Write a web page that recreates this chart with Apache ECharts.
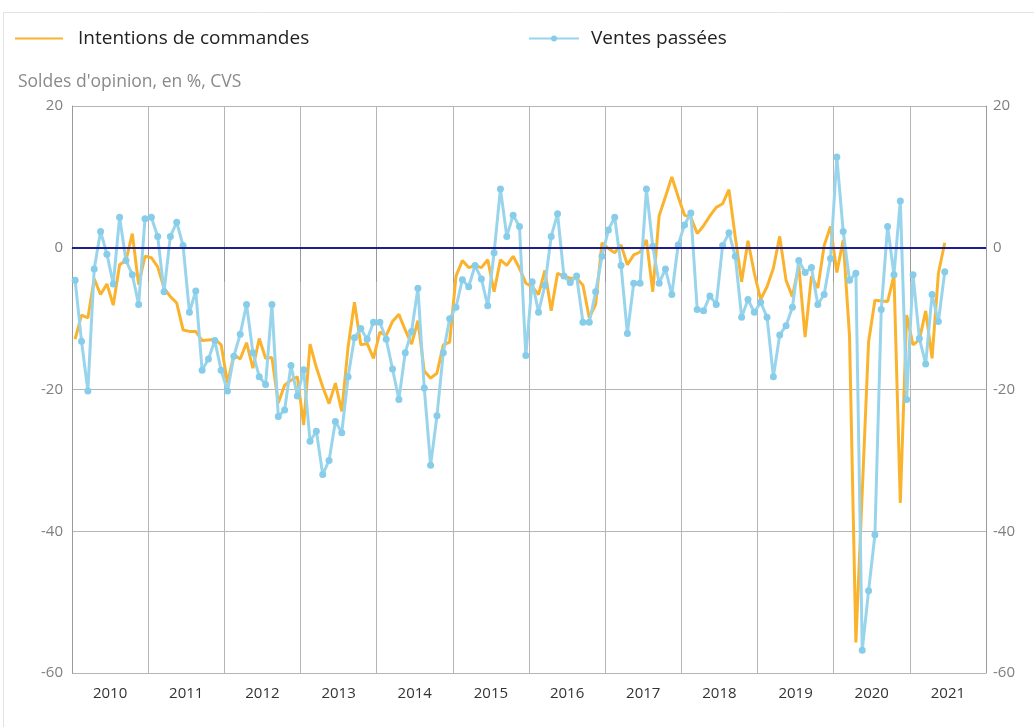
<!DOCTYPE html>
<html>
<head>
<meta charset="utf-8">
<title>Intentions de commandes / Ventes passées</title>
<script src="https://cdn.jsdelivr.net/npm/echarts@6/dist/echarts.min.js"></script>
<style>
  html, body { margin: 0; padding: 0; background: #fff; }
  #chart { width: 1034px; height: 727px; }
</style>
</head>
<body>
<div id="chart"></div>
<script>
const years = ['2010', '2011', '2012', '2013', '2014', '2015', '2016', '2017', '2018', '2019', '2020', '2021']

// mois de janv. 2010 à déc. 2021 (les données s'arrêtent en juin 2021)
const months = []
years.forEach(y => {
  for (let m = 1; m <= 12; m++) months.push(y + '-' + String(m).padStart(2, '0'))
})

const yTicks = [20, 0, -20, -40, -60]

// Intentions de commandes
const commandes = [
  -12.9, -9.5, -9.9, -4.4, -6.6, -5.1, -8.1, -2.4, -1.8, 2.0, -5.2, -1.2,
  -1.4, -2.7, -5.7, -6.9, -7.8, -11.6, -11.8, -11.8, -13.1, -13.0, -12.9, -13.7,
  -19.1, -15.1, -15.7, -13.4, -17.0, -12.8, -15.6, -15.5, -21.9, -19.4, -18.7, -18.2,
  -25.0, -13.6, -16.9, -19.6, -22.0, -19.1, -23.1, -14.0, -7.7, -13.7, -13.5, -15.6,
  -11.9, -12.4, -10.4, -9.4, -11.6, -13.6, -10.3, -17.4, -18.4, -17.7, -13.7, -13.3,
  -4.0, -1.8, -2.8, -2.5, -2.8, -1.7, -6.2, -1.7, -2.5, -1.2, -2.9, -5.0,
  -5.5, -6.6, -3.2, -8.9, -3.6, -4.0, -4.3, -4.3, -5.3, -9.9, -8.0, 0.7,
  -0.1, -0.7, 0.4, -2.4, -1.0, -0.6, 1.1, -6.2, 4.5, 7.2, 10.0, 7.2,
  4.6, 4.3, 2.0, 3.1, 4.5, 5.7, 6.2, 8.2, 1.5, -4.8, 1.0, -3.6,
  -7.3, -5.5, -2.9, 1.6, -4.6, -6.9, -2.5, -12.6, -4.0, -5.7, 0.3, 3.0,
  -3.5, 1.1, -12.5, -55.7, -34.5, -13.3, -7.4, -7.5, -7.6, -3.9, -36.0, -9.5,
  -13.7, -13.0, -8.9, -15.6, -3.6, 0.7
]

// Ventes passées
const ventes = [
  -4.6, -13.2, -20.2, -3.0, 2.3, -0.9, -5.1, 4.3, -1.8, -3.8, -8.0, 4.1,
  4.3, 1.6, -6.2, 1.6, 3.6, 0.3, -9.1, -6.1, -17.3, -15.7, -13.1, -17.3,
  -20.2, -15.3, -12.2, -8.0, -14.8, -18.2, -19.3, -8.0, -23.8, -22.9, -16.6, -20.9,
  -17.2, -27.3, -25.9, -32.0, -30.0, -24.5, -26.1, -18.2, -12.7, -11.4, -12.9, -10.5,
  -10.5, -12.9, -17.1, -21.4, -14.8, -11.8, -5.7, -19.8, -30.7, -23.7, -14.8, -10.0,
  -8.4, -4.5, -5.5, -2.5, -4.4, -8.2, -0.7, 8.3, 1.6, 4.6, 3.0, -15.2,
  -4.8, -9.1, -5.3, 1.6, 4.8, -4.0, -4.9, -4.0, -10.5, -10.5, -6.2, -1.2,
  2.5, 4.3, -2.5, -12.1, -5.0, -5.0, 8.3, 0.2, -5.0, -3.0, -6.6, 0.4,
  3.2, 4.9, -8.7, -8.9, -6.8, -8.0, 0.3, 2.1, -1.2, -9.8, -7.3, -9.1,
  -7.7, -9.8, -18.2, -12.3, -11.0, -8.4, -1.8, -3.5, -2.8, -8.0, -6.6, -1.5,
  12.8, 2.3, -4.6, -3.6, -56.8, -48.4, -40.5, -8.7, 3.0, -3.8, 6.6, -21.4,
  -3.8, -12.8, -16.4, -6.6, -10.4, -3.4
]

const chart = echarts.init(document.getElementById('chart'))

const yAxisCommon = {
  type: 'value',
  min: yTicks[yTicks.length - 1],
  max: yTicks[0],
  interval: 20,
  axisLine: { show: true, lineStyle: { color: '#9a9a9a', width: 1 } },
  axisTick: { show: false },
  splitLine: { show: true, lineStyle: { color: '#b5b5b5', width: 1 } },
  axisLabel: { fontFamily: 'Open Sans', fontSize: 15, color: '#7f7f7f' }
}

const option = {
  animation: false,
  backgroundColor: '#fff',
  textStyle: { fontFamily: 'Open Sans' },
  title: {
    text: "Soldes d'opinion, en %, CVS",
    left: 13,
    top: 68,
    textStyle: { fontFamily: 'Open Sans', fontSize: 17.5, fontWeight: 'normal', color: '#8a8a8a' }
  },
  legend: [
    {
      data: ['Intentions de commandes'],
      left: 9,
      top: 24,
      itemWidth: 48,
      itemHeight: 7.5,
      itemStyle: { opacity: 0 },
      textStyle: { fontSize: 19, color: '#222', padding: [0, 0, 0, 10] }
    },
    {
      data: ['Ventes passées'],
      left: 523,
      top: 24,
      itemWidth: 50,
      itemHeight: 7.5,
      textStyle: { fontSize: 19, color: '#222', padding: [0, 0, 0, 7] }
    }
  ],
  grid: { left: 72, right: 48, top: 106, bottom: 54 },
  xAxis: [
    {
      type: 'category',
      data: months,
      boundaryGap: true,
      show: false
    },
    {
      type: 'category',
      data: years,
      position: 'bottom',
      boundaryGap: true,
      axisLine: { show: true, lineStyle: { color: '#9a9a9a' } },
      axisTick: { show: true, length: 34, lineStyle: { color: '#9a9a9a' } },
      splitLine: { show: true, lineStyle: { color: '#b5b5b5' } },
      axisLabel: { fontSize: 15, color: '#333', margin: 13 }
    }
  ],
  yAxis: [
    Object.assign({}, yAxisCommon, { position: 'left', axisLabel: Object.assign({}, yAxisCommon.axisLabel, { margin: 9 }) }),
    Object.assign({}, yAxisCommon, { position: 'right', axisLabel: Object.assign({}, yAxisCommon.axisLabel, { margin: 7 }) })
  ],
  series: [
    {
      name: 'Intentions de commandes',
      type: 'line',
      xAxisIndex: 0,
      yAxisIndex: 0,
      data: commandes,
      symbol: 'none',
      color: '#fbb32e',
      lineStyle: { width: 3, color: '#fbb32e' },
      markLine: {
        silent: true,
        symbol: 'none',
        label: { show: false },
        lineStyle: { color: '#1f1f8c', width: 2, type: 'solid' },
        data: [{ yAxis: 0 }]
      }
    },
    {
      name: 'Ventes passées',
      type: 'line',
      xAxisIndex: 0,
      yAxisIndex: 0,
      data: ventes,
      symbol: 'circle',
      symbolSize: 7,
      showAllSymbol: true,
      color: '#87cdea',
      itemStyle: { color: '#87cdea' },
      lineStyle: { width: 3, color: '#98d5ec' }
    }
  ],
  graphic: [
    { type: 'line', shape: { x1: 3.5, y1: 12, x2: 3.5, y2: 727 }, style: { stroke: '#e3e3e3', lineWidth: 1 } },
    { type: 'line', shape: { x1: 3, y1: 12.5, x2: 1034, y2: 12.5 }, style: { stroke: '#e3e3e3', lineWidth: 1 } }
  ]
}

chart.setOption(option)
</script>
</body>
</html>
